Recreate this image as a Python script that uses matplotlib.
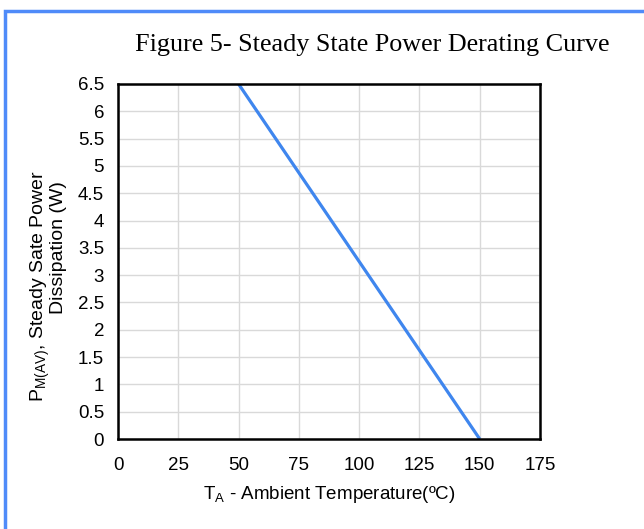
import matplotlib
matplotlib.use("Agg")
import matplotlib.pyplot as plt
from matplotlib.patches import Rectangle

# Data
temperature = [50, 150]
power = [6.5, 0]
x_ticks = [0, 25, 50, 75, 100, 125, 150, 175]
y_ticks = [0, 0.5, 1, 1.5, 2, 2.5, 3, 3.5, 4, 4.5, 5, 5.5, 6, 6.5]
title = "Figure 5- Steady State Power Derating Curve"

plt.rcParams['font.family'] = ['Liberation Sans', 'DejaVu Sans']
plt.rcParams['mathtext.default'] = 'regular'

W, H = 644, 529
fig = plt.figure(figsize=(W / 100, H / 100), dpi=100)
ax = fig.add_axes([118 / W, 1 - 439 / H, (540 - 118) / W, (439 - 84) / H])

ax.plot(temperature, power, color='#3F86EE', lw=2.3, solid_capstyle='butt')
ax.set_xlim(0, 175)
ax.set_ylim(0, 6.5)
ax.set_xticks(x_ticks)
ax.set_yticks(y_ticks)
ax.set_yticklabels([f"{v:g}" for v in y_ticks])
ax.grid(True, color='#d9d9d9', lw=1)
ax.set_axisbelow(True)
ax.tick_params(length=0, labelsize=13.5, colors='black')
ax.tick_params(axis='x', pad=13)
ax.tick_params(axis='y', pad=10)
for s in ax.spines.values():
    s.set_linewidth(1.8)
    s.set_color('black')

ax.set_xlabel(r"T$_{\mathregular{A}}$ - Ambient Temperature(ºC)", fontsize=13.5, labelpad=7)

fig.text(48 / W, 1 - 170 / H,
         "P$_{\\mathregular{M(AV)}}$, Steady Sate Power\nDissipation (W)  ",
         rotation=90, ha='center', va='top', fontsize=14,
         multialignment='right', linespacing=0.85)

fig.text(372 / W, 1 - 45 / H, title, ha='center', va='center',
         fontsize=18.8, family='Liberation Serif')

fig.patches.append(Rectangle((4.5 / W, -0.1), 1.2, 1 - 11 / H + 0.1,
                             transform=fig.transFigure, fill=False,
                             edgecolor='#4F8BF9', lw=2.5, clip_on=False))

fig.savefig("out.png", dpi=100)
